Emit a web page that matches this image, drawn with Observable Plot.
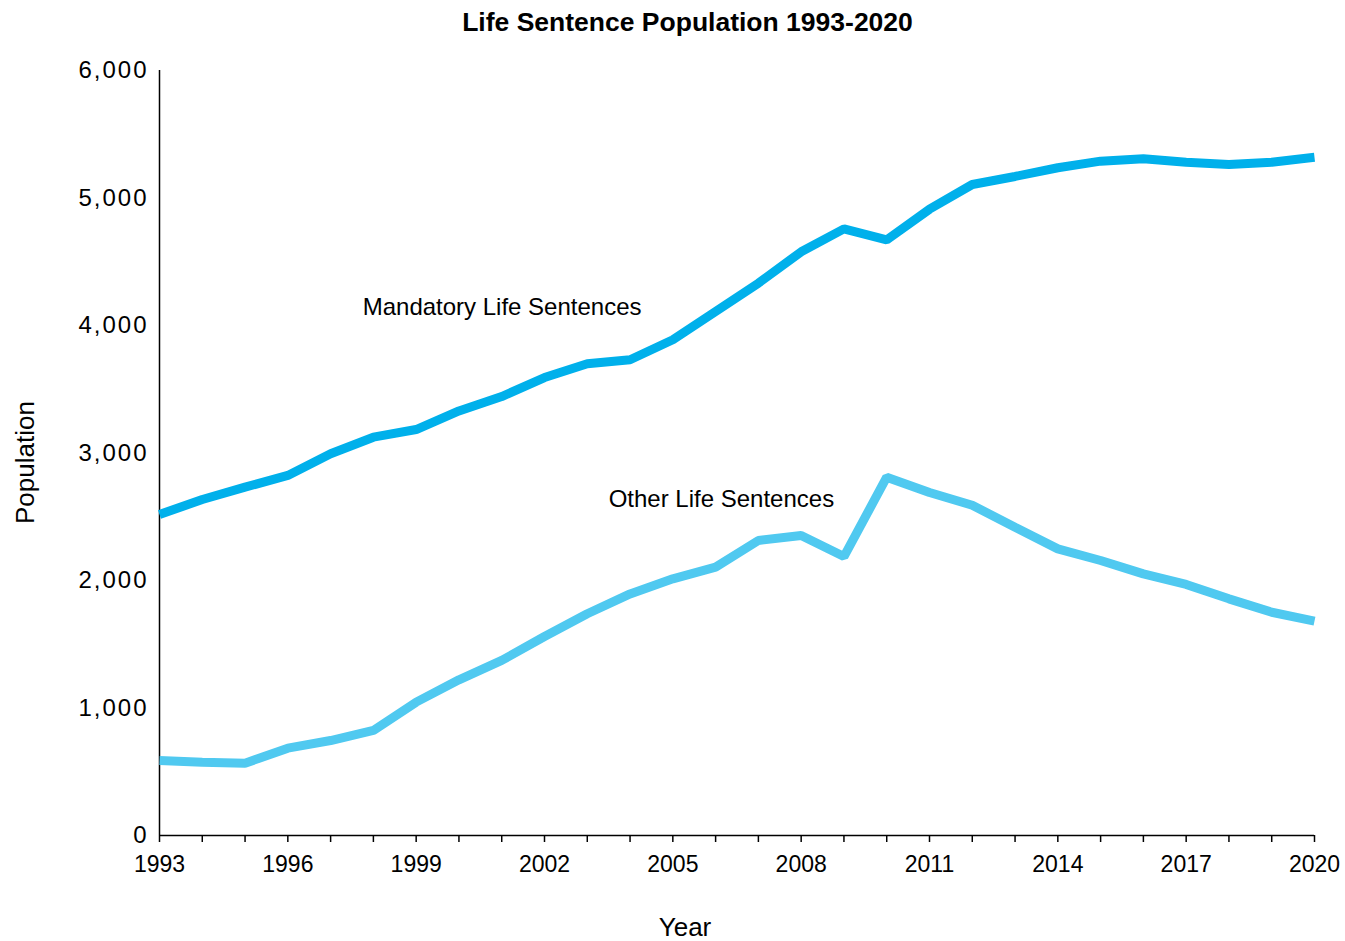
<!DOCTYPE html>
<html><head><meta charset="utf-8">
<script src="https://cdn.jsdelivr.net/npm/d3@7"></script>
<script src="https://cdn.jsdelivr.net/npm/@observablehq/plot@0.6"></script>
<style>
body{margin:0;background:#fff;font-family:"Liberation Sans",Arial,sans-serif;}
#title{height:44px;line-height:44px;text-align:center;font-weight:bold;font-size:26.5px;padding-left:30px;width:1315px;color:#000;}
g[aria-label="y-axis tick label"] text{letter-spacing:2px;}
</style></head><body>
<div id="title">Life Sentence Population 1993-2020</div>
<div id="chart"></div>
<script>
const years = [1993,1994,1995,1996,1997,1998,1999,2000,2001,2002,2003,2004,2005,2006,2007,2008,2009,2010,2011,2012,2013,2014,2015,2016,2017,2018,2019,2020];
const mandatory = [2518,2635,2732,2824,2994,3124,3184,3330,3443,3592,3700,3731,3888,4110,4332,4578,4758,4672,4912,5106,5169,5237,5289,5307,5281,5263,5281,5320];
const other = [588,575,567,685,745,824,1046,1221,1373,1561,1739,1895,2013,2105,2314,2353,2188,2810,2690,2590,2418,2248,2157,2052,1969,1856,1751,1681];
const seriesNames = ["Mandatory Life Sentences","Other Life Sentences"];
const seriesColors = ["#00b0eb","#50c9f0"];
const xTickLabels = [1993,1996,1999,2002,2005,2008,2011,2014,2017,2020];
const yTicks = [0,1000,2000,3000,4000,5000,6000];
const annotations = [
  {label:"Mandatory Life Sentences", year:1997.75, value:4140},
  {label:"Other Life Sentences", year:2003.5, value:2640}
];
const axisTitles = [
  {label:"Population", value:2925}
];
const data = [];
years.forEach((y,i)=>{
  data.push({year:y, value:mandatory[i], series:seriesNames[0]});
  data.push({year:y, value:other[i], series:seriesNames[1]});
});
const font = '"Liberation Sans", Arial, sans-serif';
const plot = Plot.plot({
  width:1345, height:897,
  marginTop:26, marginBottom:106, marginLeft:159, marginRight:31,
  style:{fontFamily:font, fontSize:"23px", color:"#000", background:"#fff"},
  x:{domain:[1993,2020]},
  y:{domain:[0,6000]},
  color:{domain:seriesNames, range:seriesColors},
  marks:[
    Plot.axisY({ticks:yTicks, tickSize:0, tickPadding:11, tickFormat:d3.format(","), label:null, fontSize:24}),
    Plot.axisX({ticks:years, tickSize:7, tickFormat:()=>"", label:null, strokeWidth:1.5}),
    Plot.axisX({ticks:xTickLabels, tickSize:0, tickPadding:20, tickFormat:d=>String(d), label:null, fontSize:23}),
    Plot.ruleX([1993], {y1:0, y2:6000, strokeWidth:1.5, stroke:"#000"}),
    Plot.ruleY([0], {strokeWidth:1.5, stroke:"#000"}),
    Plot.line(data, {x:"year", y:"value", z:"series", stroke:"series", strokeWidth:9, strokeLinejoin:"miter", strokeLinecap:"butt"}),
    Plot.text(annotations, {x:"year", y:"value", text:"label", textAnchor:"start", fontSize:24, fill:"#000"}),
    Plot.text(["Year"], {frameAnchor:"bottom", dx:-52, dy:100, fontSize:26, fill:"#000"}),
    Plot.text(axisTitles, {y:"value", text:"label", frameAnchor:"left", textAnchor:"middle", dx:-134, rotate:-90, fontSize:26, fill:"#000"})
  ]
});
document.getElementById("chart").appendChild(plot);
</script>
</body></html>
